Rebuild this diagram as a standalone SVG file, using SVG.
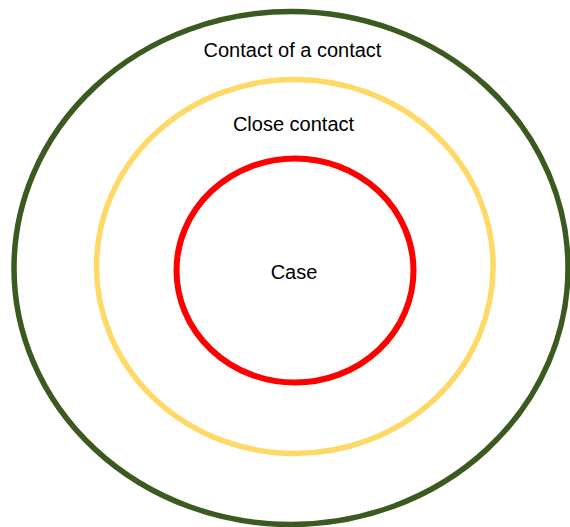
<svg xmlns="http://www.w3.org/2000/svg" width="570" height="527" viewBox="0 0 570 527">
  <style>
    .ring { fill: none; }
    .lbl { font-family: "Liberation Sans", Arial, sans-serif; font-size: 20px; fill: #000000; text-anchor: middle; }
  </style>
  <rect x="0" y="0" width="570" height="527" fill="#ffffff"/>
  <g id="contact-of-contact">
    <ellipse class="ring" cx="291" cy="268" rx="277" ry="256.5" stroke="#3b5a20" stroke-width="5.5"/>
    <text class="lbl" x="292.5" y="57">Contact of a contact</text>
  </g>
  <g id="close-contact">
    <ellipse class="ring" cx="294.8" cy="266.5" rx="198.3" ry="187" stroke="#ffd966" stroke-width="5.5"/>
    <text class="lbl" x="293.5" y="131">Close contact</text>
  </g>
  <g id="case">
    <ellipse class="ring" cx="295" cy="270.5" rx="118.5" ry="112" stroke="#ff0000" stroke-width="6"/>
    <text class="lbl" x="294" y="279">Case</text>
  </g>
  <g id="connectors"></g>
</svg>
